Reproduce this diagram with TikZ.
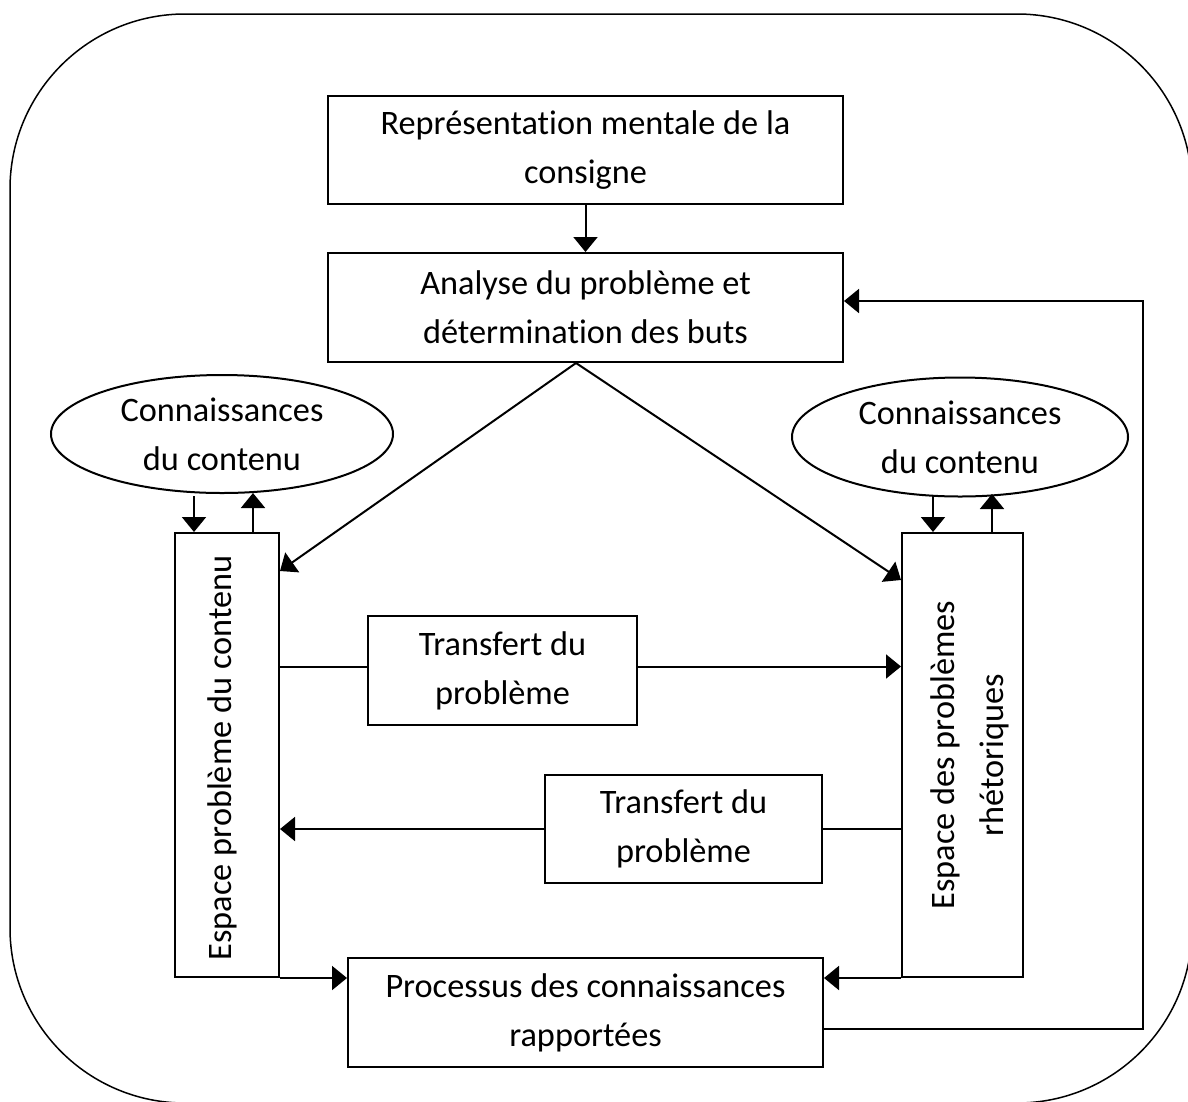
\documentclass[tikz,border=0pt]{standalone}
\usepackage{fontspec}
\setmainfont{Carlito}[Ligatures={NoCommon}]
\usetikzlibrary{arrows.meta,calc,shapes.geometric}
\newcommand{\diagfont}{\fontsize{34.3}{49}\selectfont}
\begin{document}
\begin{tikzpicture}[x=1pt,y=-1pt,
  box/.style={draw,line width=2pt,inner sep=0pt,align=center,font=\diagfont},
  ell/.style={draw,ellipse,line width=2pt,inner sep=0pt,align=center,font=\diagfont},
  conn/.style={line width=2pt},
  arr/.style={line width=2pt,-{Triangle[length=15pt,width=24pt]}},
  vtext/.style={rotate=90,align=center,font=\diagfont,inner sep=0pt}]
\useasboundingbox (0,0) rectangle (1188,1101);
\begin{scope}
\clip (0,0) rectangle (1188,1101);
\draw[line width=1.5pt,rounded corners=175pt] (10,14) rectangle (1192,1103);
\end{scope}

\node[box,minimum width=515pt,minimum height=108pt] (box1) at (585.5,150) {Représentation mentale de la\\consigne};
\node[box,minimum width=515pt,minimum height=109pt] (box2) at (585.5,307.5) {Analyse du problème et\\détermination des buts};
\node[ell,minimum width=342pt,minimum height=118pt] (ellL) at (222,434) {Connaissances\\du contenu};
\node[ell,minimum width=336pt,minimum height=119pt] (ellR) at (960,437) {Connaissances\\du contenu};
\node[box,minimum width=104pt,minimum height=444pt] (espL) at (227,755) {};
\node[vtext] (espLtext) at (222,758) {Espace problème du contenu};
\node[box,minimum width=121pt,minimum height=444pt] (espR) at (962.5,755) {};
\node[vtext] (espRtext) at (970,755) {Espace des problèmes\\rhétoriques};
\node[box,minimum width=269pt,minimum height=109pt] (T1) at (502.5,670.5) {Transfert du\\problème};
\node[box,minimum width=277pt,minimum height=108pt] (T2) at (683.5,829) {Transfert du\\problème};
\node[box,minimum width=475pt,minimum height=109pt] (proc) at (585.5,1012.5) {Processus des connaissances\\rapportées};

% top arrow
\draw[arr] (box1.south) -- (box2.north);
% diagonals
\coordinate (apex) at ($(box2.south)+(-9.5,0)$);
\draw[arr] (apex) -- ($(espL.north east)+(0,39)$);
\draw[arr] (apex) -- ($(espR.north west)+(0,48)$);
% ellipse arrows left
\draw[arr] ($(espL.north)+(-33,-36)$) -- ($(espL.north)+(-33,0)$);
\draw[arr] ($(espL.north)+(26,0)$) -- ($(espL.north)+(26,-39)$);
% ellipse arrows right
\draw[arr] ($(espR.north)+(-29.5,-36)$) -- ($(espR.north)+(-29.5,0)$);
\draw[arr] ($(espR.north)+(29.5,0)$) -- ($(espR.north)+(29.5,-38)$);
% transfer 1
\coordinate (t1w) at ($(T1.west)+(0,-4)$);
\coordinate (t1e) at ($(T1.east)+(0,-4)$);
\draw[conn] (espL.east |- t1w) -- (t1w);
\draw[arr] (t1e) -- (espR.west |- t1e);
% transfer 2
\draw[conn] (espR.west |- T2.east) -- (T2.east);
\draw[arr] (T2.west) -- (espL.east |- T2.west);
% bottom arrows
\draw[arr] (espL.south east) -- (espL.south east -| proc.west);
\draw[arr] (espR.south west) -- (espR.south west -| proc.east);
% feedback loop
\coordinate (fbs) at ($(proc.east)+(0,16.5)$);
\coordinate (fbe) at ($(box2.east)+(0,-6.5)$);
\coordinate (fbc1) at (1143,1029);
\coordinate (fbc2) at (1143,301);
\draw[arr] (fbs) -- (fbc1) -- (fbc2) -- (fbe);
\end{tikzpicture}
\end{document}
